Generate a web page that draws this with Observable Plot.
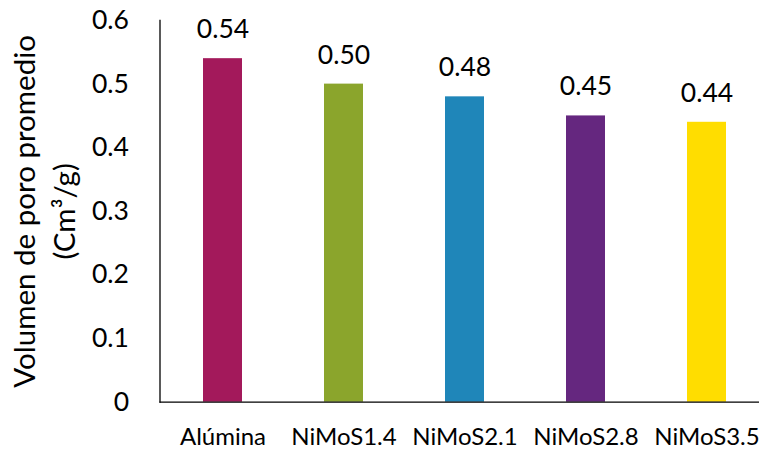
<!DOCTYPE html>
<html><head><meta charset="utf-8">
<script src="https://cdn.jsdelivr.net/npm/d3@7"></script>
<script src="https://cdn.jsdelivr.net/npm/@observablehq/plot@0.6"></script>
<style>html,body{margin:0;padding:0;background:#fff;overflow:hidden;}</style>
</head><body><div id="chart"></div>
<script>
const categories = ["Alúmina", "NiMoS1.4", "NiMoS2.1", "NiMoS2.8", "NiMoS3.5"];
const values = [0.54, 0.50, 0.48, 0.45, 0.44];
const valueLabels = ["0.54", "0.50", "0.48", "0.45", "0.44"];
const colors = ["#A3195B", "#8BA52C", "#1F86B9", "#65277F", "#FFDD00"];
const yTicks = [0, 0.1, 0.2, 0.3, 0.4, 0.5, 0.6];
const yTickLabels = ["0", "0.1", "0.2", "0.3", "0.4", "0.5", "0.6"];
const yTitleLines = ["Volumen de poro promedio", "(Cm³/g)"];

const data = categories.map((c, i) => ({category: c, value: values[i], label: valueLabels[i]}));

const mL = 159.5, mT = 20, mB = 48.3;
const titleSize = 29.5;
const chart = Plot.plot({
  width: 759, height: 450,
  marginLeft: mL, marginRight: 0, marginTop: mT, marginBottom: mB,
  style: {fontFamily: "Lato, sans-serif", background: "white", color: "black", overflow: "hidden"},
  x: {domain: categories, range: [mL, mL + 5 * 121.75], paddingInner: 0.68, paddingOuter: 0.34, label: null},
  y: {domain: [0, 0.6], label: null},
  color: {domain: categories, range: colors},
  marks: [
    Plot.barY(data, {x: "category", y: "value", fill: "category"}),
    Plot.text(data, {x: "category", y: "value", text: "label", lineAnchor: "bottom", dy: -20.6, fontSize: 26.5, fill: "black"}),
    Plot.axisY({ticks: yTicks, tickFormat: d => yTickLabels[yTicks.indexOf(d)], tickSize: 0, tickPadding: 31, fontSize: 26.5, label: null}),
    Plot.axisX({tickSize: 0, tickPadding: 26, fontSize: 24, label: null}),
    Plot.frame({anchor: "left", stroke: "black", strokeWidth: 1.3}),
    Plot.ruleY([0], {stroke: "black", strokeWidth: 1.3}),
    Plot.text([yTitleLines.join("\n")], {frameAnchor: "left", dx: 42 - mL, rotate: -90, textAnchor: "middle", lineAnchor: "middle", lineHeight: 40 / titleSize, fontSize: titleSize, fill: "black"})
  ]
});
document.getElementById("chart").appendChild(chart);
</script>
</body></html>
